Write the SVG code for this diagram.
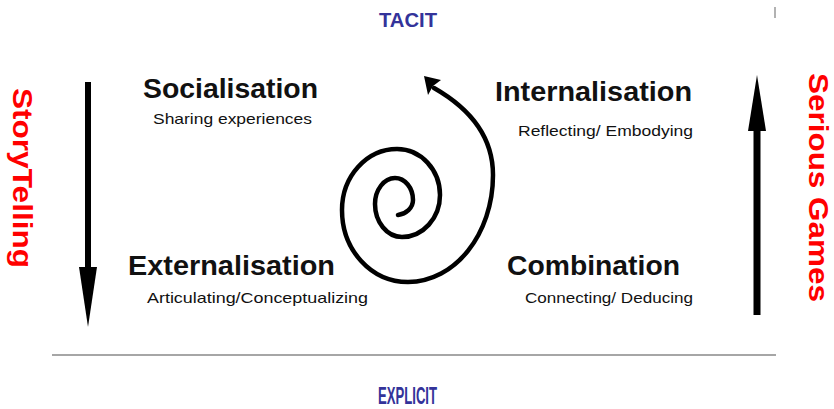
<svg xmlns="http://www.w3.org/2000/svg" width="834" height="409" viewBox="0 0 834 409">
<style>
.title{font-family:"Liberation Sans",Arial,sans-serif;font-weight:bold;font-size:28px;fill:#111}
.sub{font-family:"Liberation Sans",Arial,sans-serif;font-size:15px;fill:#111}
.side{font-family:"Liberation Sans",Arial,sans-serif;font-weight:bold;font-size:28px;fill:#ff0000}
.axis{font-family:"Liberation Sans",Arial,sans-serif;font-weight:bold;fill:#33339a}
.shaft{stroke:#000;fill:none}
.head{fill:#000;stroke:none}
</style>
<rect width="834" height="409" fill="#fff"/>
<g id="tacit"><text class="axis" font-size="20" x="379" y="27" textLength="58" lengthAdjust="spacingAndGlyphs">TACIT</text></g>
<g id="explicit"><text class="axis" font-size="23" x="378" y="404" textLength="59" lengthAdjust="spacingAndGlyphs">EXPLICIT</text></g>
<g id="socialisation">
<text class="title" x="143" y="98" textLength="175" lengthAdjust="spacingAndGlyphs">Socialisation</text>
<text class="sub" x="153" y="124" textLength="159" lengthAdjust="spacingAndGlyphs">Sharing experiences</text>
</g>
<g id="internalisation">
<text class="title" x="495" y="101" textLength="197" lengthAdjust="spacingAndGlyphs">Internalisation</text>
<text class="sub" x="518" y="136" textLength="175" lengthAdjust="spacingAndGlyphs">Reflecting/ Embodying</text>
</g>
<g id="externalisation">
<text class="title" x="128" y="275" textLength="207" lengthAdjust="spacingAndGlyphs">Externalisation</text>
<text class="sub" x="147" y="303" textLength="221" lengthAdjust="spacingAndGlyphs">Articulating/Conceptualizing</text>
</g>
<g id="combination">
<text class="title" x="507" y="275" textLength="173" lengthAdjust="spacingAndGlyphs">Combination</text>
<text class="sub" x="525" y="303" textLength="168" lengthAdjust="spacingAndGlyphs">Connecting/ Deducing</text>
</g>
<g id="storytelling"><text class="side" transform="translate(13,88) rotate(90)" textLength="180" lengthAdjust="spacingAndGlyphs">StoryTelling</text></g>
<g id="serious-games"><text class="side" transform="translate(809,73) rotate(90)" textLength="229" lengthAdjust="spacingAndGlyphs">Serious Games</text></g>
<g id="connectors">
<line class="shaft" x1="88" y1="82" x2="88" y2="270" stroke-width="6"/>
<polygon class="head" points="79,267 97,267 88,327"/>
<line class="shaft" x1="757" y1="128" x2="757" y2="315" stroke-width="7"/>
<polygon class="head" points="748,131 766,131 757,75"/>
<path class="shaft" stroke-width="4.5" stroke-linecap="round" d="M398,215 C406,214 413,208 413,200 C413,188 405,178 395,178 C384,178 375,190 375,204 C375,222 387,237 402,237 C423,237 440,218 440,195 C440,170 421,149 397,149 C367,149 342,176 342,210 C342,250 371,282 408,282 C455,282 493,234 493,175 C493,130 462,104 434,88"/>
<path class="head" d="M424,76 L441,80 L433,86 L428,95 Z"/>
<line x1="52" y1="355" x2="776" y2="355" stroke="#888" stroke-width="1.5"/>
<line x1="775" y1="7" x2="775" y2="18" stroke="#999" stroke-width="1.5"/>
</g>
</svg>
